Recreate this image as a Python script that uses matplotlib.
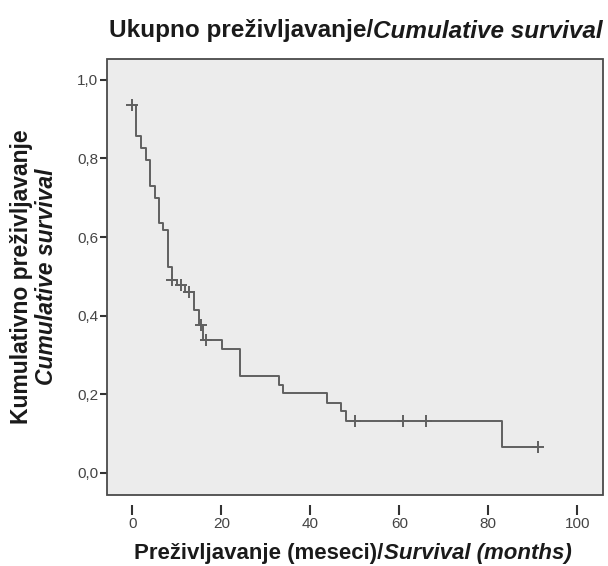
import matplotlib
matplotlib.use("Agg")
import matplotlib.pyplot as plt
from matplotlib.patches import Rectangle

# Kaplan-Meier steps
event_times = [0, 0.8, 2.0, 3.0, 4.0, 5.0, 6.1, 7.0, 8.1, 9.0, 10.0, 11.8, 13.8,
               15.0, 15.9, 20.1, 24.1, 33.0, 33.9, 43.8, 46.8, 48.0, 83.0, 91.2]
survival = [0.937, 0.856, 0.826, 0.796, 0.730, 0.699, 0.635, 0.618, 0.523, 0.491,
            0.478, 0.461, 0.415, 0.377, 0.339, 0.315, 0.246, 0.224, 0.203, 0.179,
            0.158, 0.133, 0.067, 0.067]

# censored observations
censor_times = [0, 8.8, 10.9, 12.7, 15.4, 16.6, 50.0, 60.9, 66.0, 91.2]
censor_surv = [0.937, 0.491, 0.478, 0.461, 0.377, 0.339, 0.133, 0.133, 0.133, 0.067]

x_ticks = [0, 20, 40, 60, 80, 100]
y_ticks = [0.0, 0.2, 0.4, 0.6, 0.8, 1.0]
y_tick_labels = ["0,0", "0,2", "0,4", "0,6", "0,8", "1,0"]

title_parts = [("Ukupno preživljavanje/", "normal"), ("Cumulative survival", "italic")]
xlabel_parts = [("Preživljavanje (meseci)/", "normal"), ("Survival (months)", "italic")]
ylabel_lines = [("Kumulativno preživljavanje", "normal"), ("Cumulative survival", "italic")]

plt.rcParams["font.family"] = ["Liberation Sans", "DejaVu Sans"]

W, H = 608, 566
PT = 0.72  # points per pixel at dpi 100
fig = plt.figure(figsize=(W / 100, H / 100), dpi=100)
ax = fig.add_axes([107 / W, 71 / H, 496 / W, 436 / H])
ax.set_facecolor("#ececec")

line_col = "#606060"
ax.plot(event_times, survival, drawstyle="steps-post", color=line_col, lw=1.4)
ax.plot(censor_times, censor_surv, "+", color=line_col, ms=8, mew=1.4)

ax.set_xlim(-5.7, 105.8)
ax.set_ylim(-0.056, 1.053)

for s in ax.spines.values():
    s.set_visible(False)
ax.spines["bottom"].set_position(("outward", 10 * PT))
ax.add_patch(Rectangle((0, 0), 1, 1, transform=ax.transAxes, fill=False,
                       edgecolor="#4a4a4a", lw=1.3, clip_on=False, zorder=5))

ax.set_xticks(x_ticks)
ax.set_yticks(y_ticks)
ax.set_yticklabels(y_tick_labels)
ax.tick_params(axis="x", direction="out", length=10 * PT, width=1.5, color="#333333",
               labelsize=11, labelcolor="#444444", pad=2 * PT)
ax.tick_params(axis="y", direction="out", length=7 * PT, width=1.5, color="#333333",
               labelsize=11, labelcolor="#444444", pad=2 * PT)

fig.canvas.draw()
renderer = fig.canvas.get_renderer()


def mixed_line(parts, xc, yc, size):
    texts = [fig.text(0, yc / H, s, fontsize=size, fontweight="bold", fontstyle=st,
                      color="#1a1a1a", ha="left", va="center") for s, st in parts]
    widths = [t.get_window_extent(renderer).width for t in texts]
    x = xc - sum(widths) / 2
    for t, w in zip(texts, widths):
        t.set_x(x / W)
        x += w


mixed_line(title_parts, 356, H - 31, 17.5)
mixed_line(xlabel_parts, 353, H - 553, 16)

for (s, st), xc in zip(ylabel_lines, [22, 47]):
    fig.text(xc / W, 1 - 277 / H, s, fontsize=16.5, fontweight="bold", fontstyle=st,
             color="#1a1a1a", rotation=90, ha="center", va="center")

fig.savefig("out.png", dpi=100)
